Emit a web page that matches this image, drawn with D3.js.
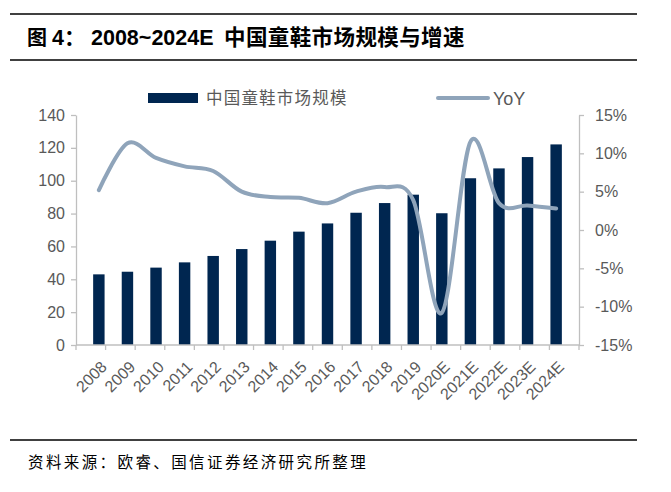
<!DOCTYPE html>
<html><head><meta charset="utf-8">
<script src="https://cdn.jsdelivr.net/npm/d3@7"></script>
<style>body{margin:0;background:#fff}svg{display:block}</style>
</head><body>
<svg id="c" width="671" height="492"></svg>
<script>
const categories = ["2008","2009","2010","2011","2012","2013","2014","2015","2016","2017","2018","2019","2020E","2021E","2022E","2023E","2024E"];
const marketSize = [43,44.6,47.1,50.3,54.2,58.4,63.5,69,74,80.5,86.4,91.5,80.2,101.5,107.5,114.4,122.1];
const yoy = [0.052,0.113,0.094,0.083,0.077,0.050,0.043,0.042,0.035,0.050,0.056,0.039,-0.108,0.115,0.035,0.032,0.028];
const leftTicks = [0,20,40,60,80,100,120,140];
const rightTicks = [-0.15,-0.10,-0.05,0,0.05,0.10,0.15];
const titleParts = ["图", "4：", "2008~2024E", "中国童鞋市场规模与增速"];
const source = "资料来源：欧睿、国信证券经济研究所整理";
const legendBar = "中国童鞋市场规模";
const legendLine = "YoY";

const svg = d3.select("#c");
const L = 76, R = 579, T = 115, B = 345;
const numFont = "'Liberation Sans', Arial, sans-serif";
const cjkFont = "'Noto Sans CJK SC', sans-serif";
const mixFont = "'Liberation Sans', 'Noto Sans CJK SC', sans-serif";
const axisColor = "#bfbfbf", textColor = "#595959";
const barColor = "#002650", lineColor = "#8fa4ba";

// frame lines
[14, 60, 440].forEach(y => {
  svg.append("line").attr("x1",10).attr("x2",637).attr("y1",y).attr("y2",y)
    .attr("stroke","#000").attr("stroke-width",1.3);
});
// title
const tt = svg.append("text").attr("y",45).attr("font-weight","bold").attr("font-size",21.5).attr("fill","#000");
tt.append("tspan").attr("x",27).attr("font-family",cjkFont).attr("font-size",20).text(titleParts[0]);
tt.append("tspan").attr("x",52).attr("font-family",mixFont).text(titleParts[1]);
tt.append("tspan").attr("x",91).attr("font-family",numFont).text(titleParts[2]);
tt.append("tspan").attr("x",224).attr("font-family",cjkFont).attr("letter-spacing",0.4).text(titleParts[3]);

svg.append("text").attr("x",28).attr("y",468).attr("font-family",cjkFont)
  .attr("font-size",15.5).attr("letter-spacing",2.4).attr("fill","#000").text(source);

const x = d3.scaleBand().domain(categories).range([L,R]).padding(0.6);
const yL = d3.scaleLinear().domain([0,140]).range([B,T]);
const yR = d3.scaleLinear().domain([-0.15,0.15]).range([B,T]);

// bars
svg.append("g").selectAll("rect").data(categories).join("rect")
  .attr("x",d=>x(d)).attr("width",x.bandwidth())
  .attr("y",(d,i)=>yL(marketSize[i])).attr("height",(d,i)=>B-yL(marketSize[i]))
  .attr("fill",barColor);

// left axis
const gl = svg.append("g").attr("transform",`translate(${L},0)`)
  .call(d3.axisLeft(yL).tickValues(leftTicks).tickSize(5).tickSizeOuter(0).tickPadding(6));
// right axis
const gr = svg.append("g").attr("transform",`translate(${R},0)`)
  .call(d3.axisRight(yR).tickValues(rightTicks).tickSize(5).tickSizeOuter(0).tickPadding(11)
    .tickFormat(d=>Math.round(d*100)+"%"));
[gl,gr].forEach(g=>{
  g.select(".domain").attr("stroke",axisColor).attr("stroke-width",1.3);
  g.selectAll(".tick line").attr("stroke",axisColor).attr("stroke-width",1.3);
  g.selectAll("text").attr("font-family",numFont).attr("font-size",16).attr("fill",textColor);
});

// x axis
const xs = d3.scalePoint().domain(d3.range(categories.length+1)).range([L,R]);
const gx = svg.append("g");
gx.append("line").attr("x1",L).attr("x2",R).attr("y1",B).attr("y2",B)
  .attr("stroke",axisColor).attr("stroke-width",1.3);
gx.selectAll("line.t").data(d3.range(categories.length+1)).join("line").attr("class","t")
  .attr("x1",d=>xs(d)).attr("x2",d=>xs(d)).attr("y1",B).attr("y2",B+5)
  .attr("stroke",axisColor).attr("stroke-width",1.3);
gx.selectAll("text").data(categories).join("text")
  .attr("transform",d=>`translate(${x(d)+x.bandwidth()/2+5},${B+19}) rotate(-45)`)
  .attr("text-anchor","end").attr("dy","0.35em")
  .attr("font-family",numFont).attr("font-size",16).attr("fill",textColor).text(d=>d);

// line
const cx = d=>x(d)+x.bandwidth()/2;
const line = d3.line().x((d,i)=>cx(categories[i])).y(d=>yR(d)).curve(d3.curveCardinal.tension(0));
svg.append("path").attr("d",line(yoy)).attr("fill","none").attr("stroke",lineColor)
  .attr("stroke-width",4).attr("stroke-linecap","round").attr("stroke-linejoin","round");

// legend
svg.append("rect").attr("x",148).attr("y",93).attr("width",50).attr("height",10).attr("fill",barColor);
svg.append("text").attr("x",206).attr("y",104).attr("font-family",cjkFont).attr("font-size",16.5)
  .attr("letter-spacing",1.2).attr("fill",textColor).text(legendBar);
svg.append("line").attr("x1",438).attr("x2",488).attr("y1",98).attr("y2",98)
  .attr("stroke",lineColor).attr("stroke-width",4).attr("stroke-linecap","round");
svg.append("text").attr("x",493).attr("y",105).attr("font-family",numFont).attr("font-size",18)
  .attr("fill",textColor).text(legendLine);
</script>
</body></html>
